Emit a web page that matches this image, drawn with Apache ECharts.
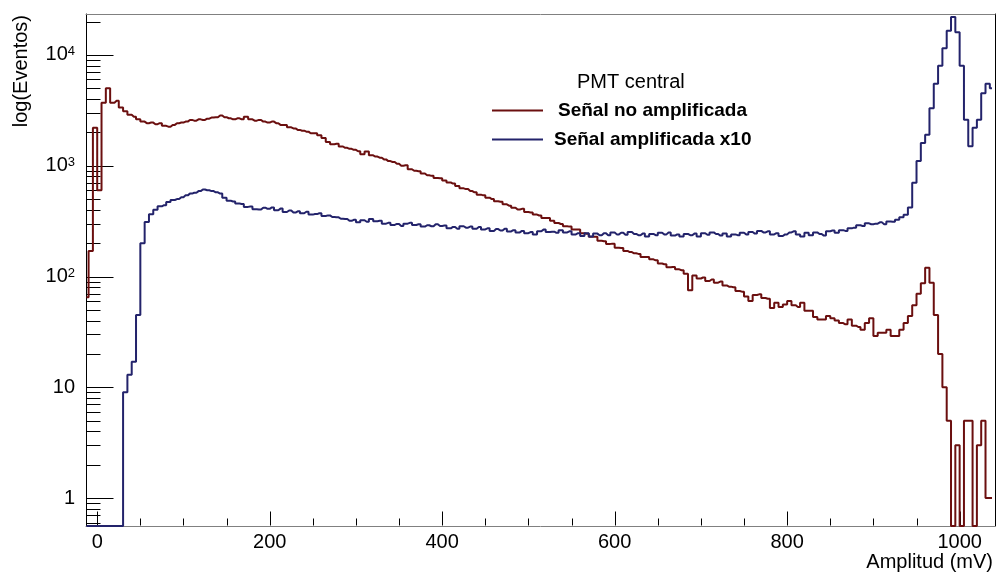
<!DOCTYPE html>
<html><head><meta charset="utf-8">
<script src="https://cdn.jsdelivr.net/npm/echarts@6/dist/echarts.min.js"></script>
<style>html,body{margin:0;padding:0;background:#fff}#c{width:997px;height:573px}</style>
</head><body><div id="c"></div>
<script>
// Histogram bin centres (mV), 5 mV bins
const binCenters = [
-12.5,-7.5,-2.5,2.5,7.5,12.5,17.5,22.5,27.5,32.5,
37.5,42.5,47.5,52.5,57.5,62.5,67.5,72.5,77.5,82.5,
87.5,92.5,97.5,102.5,107.5,112.5,117.5,122.5,127.5,132.5,
137.5,142.5,147.5,152.5,157.5,162.5,167.5,172.5,177.5,182.5,
187.5,192.5,197.5,202.5,207.5,212.5,217.5,222.5,227.5,232.5,
237.5,242.5,247.5,252.5,257.5,262.5,267.5,272.5,277.5,282.5,
287.5,292.5,297.5,302.5,307.5,312.5,317.5,322.5,327.5,332.5,
337.5,342.5,347.5,352.5,357.5,362.5,367.5,372.5,377.5,382.5,
387.5,392.5,397.5,402.5,407.5,412.5,417.5,422.5,427.5,432.5,
437.5,442.5,447.5,452.5,457.5,462.5,467.5,472.5,477.5,482.5,
487.5,492.5,497.5,502.5,507.5,512.5,517.5,522.5,527.5,532.5,
537.5,542.5,547.5,552.5,557.5,562.5,567.5,572.5,577.5,582.5,
587.5,592.5,597.5,602.5,607.5,612.5,617.5,622.5,627.5,632.5,
637.5,642.5,647.5,652.5,657.5,662.5,667.5,672.5,677.5,682.5,
687.5,692.5,697.5,702.5,707.5,712.5,717.5,722.5,727.5,732.5,
737.5,742.5,747.5,752.5,757.5,762.5,767.5,772.5,777.5,782.5,
787.5,792.5,797.5,802.5,807.5,812.5,817.5,822.5,827.5,832.5,
837.5,842.5,847.5,852.5,857.5,862.5,867.5,872.5,877.5,882.5,
887.5,892.5,897.5,902.5,907.5,912.5,917.5,922.5,927.5,932.5,
937.5,942.5,947.5,952.5,957.5,962.5,967.5,972.5,977.5,982.5,
987.5,992.5,997.5,1002.5,1007.5,1012.5,1017.5,1022.5,1027.5,1032.5,1037.5];

// Señal no amplificada (events per bin)
const senalNoAmplificada = [
65,170,2200,600,3700,5000,3700,3850,3350,3100,
2880,2770,2620,2500,2420,2450,2370,2420,2290,2250,
2335,2420,2450,2500,2590,2550,2620,2590,2660,2720,
2740,2840,2740,2680,2620,2680,2620,2770,2620,2550,
2590,2500,2450,2500,2420,2335,2335,2220,2170,2105,
2070,2030,1960,1960,1880,1780,1640,1560,1580,1490,
1450,1420,1390,1350,1270,1340,1240,1210,1180,1140,
1100,1080,1040,1000,1010,930,900,890,850,820,
810,775,770,735,705,690,655,625,615,590,
575,548,540,515,500,478,472,448,436,418,
402,408,382,378,362,355,338,338,318,304,
298,284,282,266,265,246,243,228,228,210,
208,197,198,182,181,170,166,162,160,150,
150,143,140,131,129,121,122,116,114,106,
75,102,96,98,91,94,88,90,83,81,
80,74,73,66,60,68,69,64,63,52,
58,53,56,60,55,53,58,49,49,43,
41,41,44,42,40,38,37,41,36,35,
33,38,42,29,31,31,33,29,29,33,
38,44,55,70,87,120,88,45,20,10,
5,0,3,0,5,5,0,3,5,1,1];

// Señal amplificada x10 (events per bin)
const senalAmplificadaX10 = [
0,0,0,0,0,0,0,0,0,9,
13,17,45,200,310,365,400,430,440,470,
490,500,520,540,560,570,590,610,600,590,
575,560,515,482,476,455,452,425,428,405,
402,418,408,420,396,410,382,394,378,388,
372,384,362,366,372,352,356,344,342,332,
330,318,325,308,322,312,330,315,318,300,
305,292,298,286,300,305,292,296,282,290,
284,296,286,288,272,280,270,284,276,282,
270,280,266,272,258,268,260,270,255,262,
250,258,246,252,240,256,265,252,254,248,
262,250,256,240,246,232,246,230,244,236,
246,236,250,240,248,238,252,242,236,244,
230,242,236,248,240,250,234,240,230,242,
236,244,230,246,238,250,242,234,244,230,
240,236,248,240,252,244,258,250,256,240,
246,232,240,250,256,240,230,248,236,250,
242,234,256,260,248,262,258,272,276,290,
286,302,296,300,308,296,314,312,326,342,
360,420,700,1100,1600,1900,3300,5500,8000,11500,
16500,22000,16000,8000,2600,1500,2200,2600,4500,5500,5000];

const xMajorTicks = [0,200,400,600,800,1000];
const xMinorTicks = [50,100,150,250,300,350,450,500,550,650,700,750,850,900,950];
const yMajorTicks = [1,10,100,1000,10000];
const yMinorTicks = [0.6,0.7,0.8,0.9,2,3,4,5,6,7,8,9,20,30,40,50,60,70,80,90,
  200,300,400,500,600,700,800,900,2000,3000,4000,5000,6000,7000,8000,9000,20000];

const X_MIN = -13, X_MAX = 1041, Y_MIN = 0.56, Y_MAX = 23400;
const FONT = '"Liberation Sans", Arial, Helvetica, sans-serif';
const RED = '#6b0f0f', BLUE = '#23236b';

// empty bins are drawn on the floor of the frame (log axis)
function toPairs(vals) { return binCenters.map((x, i) => [x, vals[i] > 0 ? vals[i] : Y_MIN]); }

const chart = echarts.init(document.getElementById('c'), null, {renderer: 'canvas'});

function tickRenderer(params, api) {
  const children = [];
  const origin = api.coord([X_MIN, Y_MIN]);
  const yb = Math.round(origin[1]) - 0.5;
  const xl = Math.round(origin[0]) + 0.5;
  const ln = (x1, y1, x2, y2) => ({type: 'line', shape: {x1, y1, x2, y2}, style: {stroke: '#000', lineWidth: 1}});
  xMajorTicks.forEach(v => { const x = Math.round(api.coord([v, Y_MIN])[0]) + 0.5; children.push(ln(x, yb, x, yb - 14)); });
  xMinorTicks.forEach(v => { const x = Math.round(api.coord([v, Y_MIN])[0]) + 0.5; children.push(ln(x, yb, x, yb - 7)); });
  yMajorTicks.forEach(v => { const y = Math.round(api.coord([X_MIN, v])[1]) + 0.5; children.push(ln(xl, y, xl + 27, y)); });
  yMinorTicks.forEach(v => { const y = Math.round(api.coord([X_MIN, v])[1]) + 0.5; children.push(ln(xl, y, xl + 14, y)); });
  return {type: 'group', children};
}

const option = {
  animation: false,
  backgroundColor: '#fff',
  title: {
    text: 'PMT central', left: 577, top: 72, padding: 0,
    textStyle: {fontFamily: FONT, fontSize: 20, fontWeight: 'normal', color: '#000', lineHeight: 20}
  },
  legend: [
    {data: ['Señal no amplificada'], left: 492, top: 100.5, padding: 0, icon: 'rect', itemWidth: 51, itemHeight: 2,
     textStyle: {fontFamily: FONT, fontSize: 19, fontWeight: 'bold', color: '#000', lineHeight: 20, padding: [0, 0, 0, 10]}},
    {data: ['Señal amplificada x10'], left: 492, top: 129.5, padding: 0, icon: 'rect', itemWidth: 51, itemHeight: 2,
     textStyle: {fontFamily: FONT, fontSize: 19, fontWeight: 'bold', color: '#000', lineHeight: 20, padding: [0, 0, 0, 6]}}
  ],
  grid: {left: 86, top: 14, width: 909, height: 512, containLabel: false},
  xAxis: [
    {type: 'value', min: X_MIN, max: X_MAX, position: 'bottom',
     axisLine: {show: true, onZero: false, lineStyle: {color: '#808080', width: 1}},
     axisTick: {show: false}, splitLine: {show: false},
     axisLabel: {fontFamily: FONT, fontSize: 20, color: '#000', margin: 6, showMinLabel: false, showMaxLabel: false,
                 formatter: function (v) { return String(Math.round(v)); }}},
    {type: 'value', min: X_MIN, max: X_MAX, position: 'top',
     axisLine: {show: true, onZero: false, lineStyle: {color: '#808080', width: 1}},
     axisTick: {show: false}, splitLine: {show: false}, axisLabel: {show: false}}
  ],
  yAxis: [
    {type: 'log', logBase: 10, min: Y_MIN, max: Y_MAX, position: 'left',
     axisLine: {show: true, onZero: false, lineStyle: {color: '#000', width: 1}},
     axisTick: {show: false}, splitLine: {show: false},
     axisLabel: {
       margin: 11, showMinLabel: false, showMaxLabel: false,
       formatter: function (v) {
         const l = Math.log10(v), e = Math.round(l);
         if (Math.abs(l - e) > 1e-6) return '';
         if (e === 0) return '{b|1}';
         if (e === 1) return '{b|10}';
         return '{b|10}{s|' + e + '}';
       },
       rich: {
         b: {fontFamily: FONT, fontSize: 20, color: '#000', lineHeight: 20},
         s: {fontFamily: FONT, fontSize: 13, color: '#000', verticalAlign: 'top', lineHeight: 13}
       }
     }},
    {type: 'log', logBase: 10, min: Y_MIN, max: Y_MAX, position: 'right',
     axisLine: {show: true, onZero: false, lineStyle: {color: '#000', width: 1}},
     axisTick: {show: false}, splitLine: {show: false}, axisLabel: {show: false}}
  ],
  graphic: [
    {type: 'text', x: 993, y: 562, silent: true,
     style: {text: 'Amplitud (mV)', fontFamily: FONT, fontSize: 20, fill: '#000', align: 'right', verticalAlign: 'middle'}},
    {type: 'text', x: 21, y: 15, rotation: Math.PI / 2, silent: true,
     style: {text: 'log(Eventos)', fontFamily: FONT, fontSize: 20, fill: '#000', align: 'right', verticalAlign: 'middle'}}
  ],
  series: [
    {type: 'custom', coordinateSystem: 'cartesian2d', xAxisIndex: 0, yAxisIndex: 0, silent: true, clip: false, z: 1,
     data: [[0, 1]], renderItem: tickRenderer},
    {name: 'Señal no amplificada', type: 'line', step: 'middle', xAxisIndex: 0, yAxisIndex: 0,
     data: toPairs(senalNoAmplificada), symbol: 'none', showSymbol: false, clip: true, z: 2,
     lineStyle: {color: RED, width: 2}, itemStyle: {color: RED}},
    {name: 'Señal amplificada x10', type: 'line', step: 'middle', xAxisIndex: 0, yAxisIndex: 0,
     data: toPairs(senalAmplificadaX10), symbol: 'none', showSymbol: false, clip: true, z: 3,
     lineStyle: {color: BLUE, width: 2}, itemStyle: {color: BLUE}}
  ]
};
chart.setOption(option);
</script>
</body></html>
